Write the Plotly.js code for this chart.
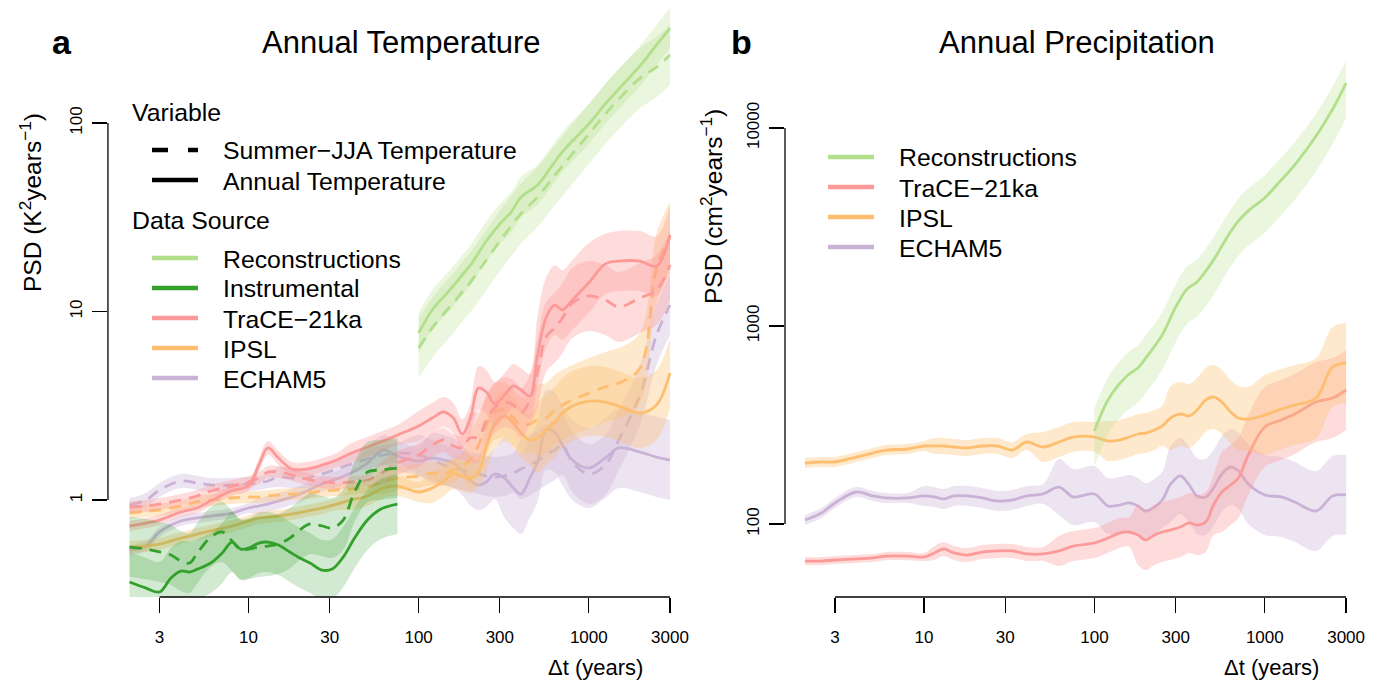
<!DOCTYPE html>
<html><head><meta charset="utf-8">
<script src="https://cdn.plot.ly/plotly-3.0.1.min.js"></script>
<style>html,body{margin:0;padding:0;background:#fff}</style>
</head><body><div id="chart" style="width:1384px;height:683px"></div>
<script>
// ---------- DATA ----------
const dtGrid = [2, 2.5, 3, 4, 5, 6, 8, 10, 11.5, 13, 15, 18, 22, 27, 33, 40, 50, 62, 75, 100, 120, 140, 160, 180, 200, 225, 250, 280, 320, 360, 400, 450, 500, 560, 630, 700, 800, 1000, 1250, 1500, 2000, 2500, 3000];
const dtInstr = [2, 2.5, 3, 3.5, 4, 4.5, 5, 6, 7, 8, 9, 10, 11.5, 13, 15, 17.5, 20, 23, 27, 31, 36, 42, 50, 60, 75];
const dtRecon = [100, 120, 140, 160, 180, 200, 250, 300, 350, 400, 500, 600, 700, 800, 1000, 1250, 1500, 2000, 2500, 3000];

// Panel a: temperature PSD (K^2 years^-1)
const traceAnnT   = [0.728, 0.755, 0.783, 0.864, 0.907, 0.99, 1.12, 1.19, 1.53, 1.89, 1.67, 1.46, 1.46, 1.53, 1.63, 1.77, 1.91, 2.06, 2.21, 2.47, 2.72, 2.93, 2.72, 2.24, 2.66, 3.93, 3.74, 3.23, 3.61, 4.03, 3.83, 3.56, 5.88, 9.24, 10.8, 10.2, 11.5, 14.2, 17.9, 18.5, 18.5, 17.4, 25.5];
const traceAnnTLo = [0.685, 0.710, 0.737, 0.813, 0.853, 0.931, 1.054, 1.12, 1.405, 1.735, 1.533, 1.341, 1.341, 1.405, 1.497, 1.566, 1.69, 1.823, 1.956, 2.057, 2.265, 2.44, 2.265, 1.865, 2.215, 3.005, 2.859, 2.469, 2.76, 3.081, 2.928, 2.722, 4.075, 6.403, 7.505, 7.062, 7.976, 9.84, 12.4, 12.82, 12.82, 12.06, 17.6];
const traceAnnTHi = [0.774, 0.803, 0.832, 0.918, 0.964, 1.052, 1.19, 1.265, 1.666, 2.058, 1.819, 1.59, 1.59, 1.666, 1.775, 2.0, 2.158, 2.328, 2.497, 2.966, 3.267, 3.519, 3.267, 2.69, 3.195, 5.14, 4.892, 4.225, 4.722, 5.271, 5.01, 4.656, 9.58, 15.06, 17.6, 16.6, 18.7, 23.1, 25.83, 26.7, 26.7, 25.11, 36.7];
const traceJjaT   = [0.918, 0.929, 0.952, 1.0, 1.05, 1.116, 1.186, 1.246, 1.308, 1.407, 1.407, 1.357, 1.292, 1.246, 1.231, 1.246, 1.277, 1.407, 1.571, 1.733, 1.958, 2.081, 1.935, 1.889, 2.133, 2.159, 2.657, 3.077, 3.31, 3.192, 2.894, 3.393, 4.778, 7.326, 8.18, 9.24, 11.1, 12.09, 11.51, 10.57, 11.81, 13.0, 17.65];
const traceJjaTLo = [0.853, 0.863, 0.885, 0.929, 0.976, 1.037, 1.102, 1.158, 1.216, 1.308, 1.308, 1.261, 1.201, 1.158, 1.144, 1.158, 1.187, 1.215, 1.357, 1.497, 1.691, 1.797, 1.671, 1.631, 1.572, 1.591, 1.958, 2.267, 2.439, 2.352, 2.133, 2.5, 3.115, 4.776, 5.333, 6.024, 7.236, 7.881, 7.503, 6.891, 7.699, 8.475, 11.51];
const traceJjaTHi = [0.988, 1.0, 1.024, 1.076, 1.13, 1.201, 1.276, 1.341, 1.407, 1.514, 1.514, 1.46, 1.39, 1.341, 1.325, 1.341, 1.374, 1.629, 1.819, 2.007, 2.267, 2.41, 2.241, 2.187, 2.894, 2.93, 3.606, 4.176, 4.492, 4.332, 3.927, 4.604, 7.329, 11.24, 12.55, 14.17, 17.03, 18.55, 17.66, 16.21, 18.12, 19.94, 27.08];

const ipslAnnT   = [0.563, 0.570, 0.584, 0.628, 0.660, 0.685, 0.728, 0.774, 0.803, 0.812, 0.822, 0.843, 0.874, 0.907, 0.952, 1.0, 1.05, 1.158, 1.186, 1.103, 1.158, 1.261, 1.374, 1.341, 1.308, 1.407, 1.91, 2.53, 2.79, 2.56, 2.27, 2.08, 2.13, 2.35, 2.59, 2.89, 3.15, 3.35, 3.31, 3.15, 2.89, 3.19, 4.72];
const ipslAnnTLo = [0.523, 0.530, 0.543, 0.584, 0.613, 0.637, 0.677, 0.719, 0.746, 0.755, 0.764, 0.783, 0.812, 0.843, 0.885, 0.885, 0.929, 1.025, 1.05, 0.976, 0.964, 1.05, 1.144, 1.117, 1.089, 1.172, 1.408, 1.864, 2.056, 1.886, 1.673, 1.533, 1.389, 1.532, 1.688, 1.884, 2.053, 2.184, 2.158, 2.053, 1.884, 2.08, 3.077];
const ipslAnnTHi = [0.606, 0.613, 0.628, 0.676, 0.710, 0.737, 0.783, 0.833, 0.864, 0.874, 0.884, 0.907, 0.940, 0.976, 1.024, 1.13, 1.187, 1.309, 1.34, 1.246, 1.391, 1.514, 1.65, 1.61, 1.571, 1.69, 2.592, 3.433, 3.786, 3.474, 3.08, 2.823, 3.267, 3.605, 3.973, 4.433, 4.832, 5.139, 5.078, 4.832, 4.433, 4.893, 7.24];
const ipslJjaT   = [0.853, 0.874, 0.885, 0.929, 0.976, 1.0, 1.025, 1.037, 1.037, 1.05, 1.063, 1.076, 1.089, 1.116, 1.13, 1.144, 1.172, 1.246, 1.308, 1.341, 1.391, 1.374, 1.443, 1.515, 1.63, 1.958, 2.5, 2.93, 3.0, 2.72, 2.5, 2.53, 2.66, 2.72, 3.0, 3.19, 3.39, 3.69, 3.98, 4.17, 5.02, 17.0, 24.8];
const ipslJjaTLo = [0.793, 0.812, 0.823, 0.863, 0.907, 0.929, 0.953, 0.964, 0.964, 0.976, 0.988, 1.0, 1.012, 1.037, 1.05, 1.063, 1.089, 1.076, 1.13, 1.158, 1.201, 1.187, 1.246, 1.308, 1.158, 1.391, 1.776, 2.081, 2.131, 1.932, 1.776, 1.797, 1.734, 1.773, 1.956, 2.08, 2.21, 2.405, 2.595, 2.718, 3.273, 11.08, 16.17];
const ipslJjaTHi = [0.918, 0.940, 0.952, 1.0, 1.05, 1.076, 1.103, 1.116, 1.116, 1.13, 1.144, 1.158, 1.172, 1.201, 1.216, 1.231, 1.261, 1.443, 1.515, 1.553, 1.611, 1.591, 1.671, 1.754, 2.295, 2.757, 3.52, 4.125, 4.224, 3.83, 3.52, 3.562, 4.08, 4.172, 4.602, 4.893, 5.2, 5.66, 6.105, 6.397, 7.7, 26.08, 38.04];

const echamAnnT   = [0.543, 0.570, 0.677, 0.774, 0.803, 0.822, 0.853, 0.907, 0.929, 0.952, 0.988, 1.037, 1.116, 1.216, 1.292, 1.391, 1.571, 1.842, 1.712, 1.61, 1.67, 1.63, 1.571, 1.443, 1.277, 1.201, 1.246, 1.374, 1.308, 1.158, 1.076, 1.308, 1.59, 2.35, 2.29, 1.958, 1.63, 1.477, 1.67, 1.889, 1.797, 1.69, 1.63];
const echamAnnTLo = [0.511, 0.536, 0.637, 0.728, 0.755, 0.773, 0.802, 0.853, 0.842, 0.863, 0.896, 0.940, 1.012, 1.102, 1.171, 1.261, 1.308, 1.534, 1.425, 1.341, 1.231, 1.201, 1.158, 1.063, 0.941, 0.885, 0.918, 1.013, 0.802, 0.71, 0.66, 0.802, 0.975, 1.442, 1.405, 1.201, 1.0, 0.906, 1.025, 1.159, 1.102, 1.037, 1.0];
const echamAnnTHi = [0.577, 0.606, 0.720, 0.823, 0.854, 0.874, 0.907, 0.964, 1.025, 1.05, 1.09, 1.144, 1.231, 1.341, 1.425, 1.534, 1.887, 2.212, 2.056, 1.934, 2.266, 2.212, 2.132, 1.958, 1.733, 1.63, 1.691, 1.865, 2.132, 1.888, 1.754, 2.132, 2.592, 3.831, 3.733, 3.192, 2.657, 2.408, 2.722, 3.079, 2.929, 2.755, 2.657];
const echamJjaT   = [0.941, 1.0, 1.13, 1.261, 1.231, 1.201, 1.201, 1.216, 1.231, 1.261, 1.324, 1.308, 1.308, 1.374, 1.46, 1.553, 1.65, 1.733, 1.776, 1.733, 1.63, 1.534, 1.477, 1.443, 1.407, 1.374, 1.341, 1.324, 1.341, 1.391, 1.46, 1.534, 1.61, 1.733, 1.842, 1.958, 1.59, 1.374, 1.534, 2.081, 3.607, 7.506, 10.83];
const echamJjaTLo = [0.864, 0.918, 1.038, 1.158, 1.13, 1.103, 1.103, 1.117, 1.13, 1.158, 1.172, 1.158, 1.158, 1.216, 1.292, 1.374, 1.46, 1.534, 1.572, 1.357, 1.276, 1.201, 1.157, 1.13, 1.102, 1.076, 1.05, 1.037, 1.05, 1.089, 1.012, 1.063, 1.116, 1.201, 1.277, 1.357, 1.102, 0.952, 1.063, 1.442, 2.5, 5.202, 7.505];
const echamJjaTHi = [1.025, 1.089, 1.231, 1.373, 1.341, 1.308, 1.308, 1.324, 1.341, 1.373, 1.496, 1.478, 1.478, 1.553, 1.65, 1.755, 1.865, 1.958, 2.007, 2.213, 2.082, 1.959, 1.886, 1.843, 1.797, 1.755, 1.712, 1.691, 1.712, 1.776, 2.107, 2.214, 2.323, 2.501, 2.658, 2.825, 2.294, 1.983, 2.214, 3.003, 5.205, 10.83, 15.63];

const reconAnnT   = [7.69, 10.19, 11.94, 13.66, 15.62, 17.44, 23.66, 29.13, 33.7, 40.5, 46.9, 58.4, 70.2, 80.2, 98.8, 126.2, 151.5, 200.7, 259.3, 319];
const reconAnnTLo = [6.02, 7.98, 9.35, 10.7, 12.23, 13.66, 18.53, 22.81, 26.39, 31.71, 36.73, 45.73, 54.97, 62.8, 77.37, 98.83, 118.6, 157.2, 203.1, 249.8];
const reconAnnTHi = [9.82, 13.01, 15.25, 17.44, 19.95, 22.27, 30.21, 37.2, 43.03, 51.72, 59.89, 74.58, 89.65, 102.4, 126.2, 161.2, 193.5, 256.3, 331.1, 407.4];
const reconJjaT   = [6.40, 8.18, 9.70, 11.1, 12.69, 14.2, 18.76, 23.66, 28.43, 33.1, 40.5, 49.8, 59.2, 68.5, 87.4, 111.6, 133.8, 173.1, 197.9, 229.5];
const reconJjaTLo = [4.435, 5.669, 6.722, 7.692, 8.794, 9.841, 13.0, 16.4, 19.7, 22.94, 28.07, 34.51, 41.03, 47.47, 60.57, 77.34, 92.72, 120.0, 137.1, 159.0];
const reconJjaTHi = [9.235, 11.8, 14.0, 16.02, 18.31, 20.49, 27.07, 34.14, 41.02, 47.76, 58.44, 71.86, 85.43, 98.85, 126.1, 161.0, 193.1, 249.8, 285.6, 331.2];

const instrAnnT   = [0.367, 0.341, 0.325, 0.386, 0.42, 0.415, 0.43, 0.463, 0.523, 0.598, 0.549, 0.556, 0.591, 0.598, 0.577, 0.530, 0.493, 0.463, 0.425, 0.43, 0.498, 0.628, 0.783, 0.896, 0.952];
const instrAnnTLo = [0.254, 0.236, 0.225, 0.267, 0.291, 0.288, 0.298, 0.321, 0.362, 0.414, 0.38, 0.385, 0.41, 0.414, 0.4, 0.367, 0.342, 0.321, 0.295, 0.298, 0.345, 0.435, 0.543, 0.621, 0.66];
const instrAnnTHi = [0.53, 0.492, 0.469, 0.557, 0.606, 0.599, 0.62, 0.668, 0.755, 0.863, 0.792, 0.802, 0.853, 0.863, 0.833, 0.765, 0.711, 0.668, 0.613, 0.62, 0.719, 0.906, 1.13, 1.293, 1.374];
const instrJjaT   = [0.563, 0.549, 0.530, 0.511, 0.475, 0.463, 0.523, 0.636, 0.677, 0.606, 0.543, 0.549, 0.563, 0.570, 0.584, 0.628, 0.693, 0.746, 0.728, 0.710, 0.783, 1.103, 1.407, 1.443, 1.477];
const instrJjaTLo = [0.39, 0.38, 0.367, 0.354, 0.329, 0.321, 0.362, 0.441, 0.469, 0.42, 0.376, 0.38, 0.39, 0.395, 0.405, 0.435, 0.48, 0.517, 0.504, 0.492, 0.543, 0.764, 0.975, 1.0, 1.024];
const instrJjaTHi = [0.812, 0.792, 0.765, 0.737, 0.685, 0.668, 0.755, 0.918, 0.977, 0.874, 0.784, 0.792, 0.812, 0.823, 0.843, 0.906, 1.0, 1.076, 1.05, 1.025, 1.13, 1.592, 2.03, 2.082, 2.131];

// Panel b: precipitation PSD (cm^2 years^-1)
const tracePr   = [65.0, 65.0, 65.8, 66.6, 67.4, 68.9, 68.9, 68.1, 71.4, 74.8, 71.4, 69.7, 72.2, 73.1, 73.1, 70.6, 70.6, 73.1, 77.4, 80.2, 85.0, 90.0, 91.1, 88.0, 83.0, 88.0, 91.1, 93.3, 96.6, 101.2, 98.8, 102.3, 124.7, 145.1, 157.4, 170.8, 223.1, 309.1, 335.1, 359.4, 413.3, 432.7, 475.0];
const tracePrLo = [62.0, 62.0, 62.8, 63.5, 64.3, 65.7, 65.7, 65.0, 65.8, 68.9, 65.8, 64.2, 66.5, 67.4, 67.4, 65.1, 65.1, 61.4, 65.0, 67.4, 71.4, 75.6, 76.6, 62.1, 58.5, 62.1, 64.2, 65.8, 68.1, 71.4, 69.7, 72.1, 87.9, 91.1, 98.9, 107.3, 140.1, 194.2, 210.5, 225.8, 259.6, 271.8, 298.4];
const tracePrHi = [68.1, 68.1, 69.0, 69.8, 70.6, 72.2, 72.2, 71.4, 77.5, 81.2, 77.5, 75.6, 78.3, 79.3, 79.3, 76.6, 76.6, 87.0, 92.1, 95.4, 101.2, 107.1, 108.4, 124.8, 117.7, 124.8, 129.2, 132.3, 137.0, 143.5, 140.1, 145.1, 176.8, 231.0, 250.6, 271.9, 355.2, 492.1, 533.5, 572.2, 658.0, 688.9, 756.2];
const ipslPr   = [203.3, 205.7, 205.7, 217.9, 228.3, 236.4, 239.2, 247.7, 247.7, 247.7, 244.8, 242.0, 247.7, 247.7, 236.4, 259.5, 244.8, 259.5, 275.0, 275.0, 262.6, 265.6, 275.0, 284.8, 288.1, 298.4, 312.6, 343.0, 359.4, 351.3, 376.5, 423.0, 437.9, 413.3, 367.6, 343.0, 339.1, 355.3, 380.9, 398.9, 432.7, 621.2, 650.4];
const ipslPrLo = [191.8, 194.1, 194.1, 205.6, 215.4, 223.0, 225.7, 233.7, 225.8, 225.8, 223.2, 220.6, 225.8, 225.8, 215.5, 236.6, 205.7, 218.1, 231.1, 231.1, 208.1, 210.5, 217.9, 225.7, 228.3, 236.5, 247.7, 236.4, 247.7, 242.1, 259.5, 291.5, 301.8, 284.8, 253.3, 236.4, 233.7, 223.2, 239.3, 250.6, 271.8, 390.2, 408.5];
const ipslPrHi = [215.5, 218.0, 218.0, 231.0, 242.0, 250.6, 253.6, 262.6, 271.7, 271.7, 268.5, 265.5, 271.7, 271.7, 259.3, 284.7, 291.3, 308.8, 327.3, 327.3, 331.4, 335.2, 347.1, 359.4, 363.6, 376.6, 394.5, 497.7, 521.5, 509.7, 546.3, 613.8, 635.4, 599.7, 533.4, 497.7, 492.0, 565.6, 606.4, 635.1, 688.9, 989.0, 1035];
const echamPr   = [104.8, 113.6, 127.7, 145.1, 138.6, 135.4, 135.4, 138.6, 137.0, 133.8, 138.6, 138.6, 135.4, 130.7, 132.2, 138.6, 141.8, 153.7, 137.0, 141.8, 123.3, 124.7, 127.7, 123.3, 116.3, 121.9, 132.2, 159.2, 174.8, 157.4, 138.6, 137.0, 152.0, 178.9, 194.0, 185.3, 159.2, 140.2, 137.0, 129.2, 116.3, 138.6, 140.2];
const echamPrLo = [98.9, 107.2, 120.5, 136.9, 130.8, 127.7, 127.7, 123.4, 122.0, 119.1, 123.4, 123.4, 120.6, 116.4, 117.7, 123.4, 126.3, 111.0, 98.9, 102.4, 89.0, 90.0, 92.2, 89.0, 84.0, 88.0, 95.5, 102.3, 112.3, 101.2, 89.1, 88.0, 97.7, 115.0, 124.7, 119.1, 100.0, 88.1, 86.1, 81.2, 73.1, 87.1, 88.1];
const echamPrHi = [111.1, 120.4, 135.4, 153.8, 146.9, 143.5, 143.5, 155.6, 153.9, 150.3, 155.6, 155.6, 152.1, 146.8, 148.5, 155.6, 159.2, 212.9, 189.7, 196.4, 170.8, 172.7, 176.9, 170.8, 161.1, 168.8, 183.1, 247.7, 272.0, 244.9, 215.7, 213.2, 236.5, 278.4, 301.9, 288.3, 253.4, 223.2, 218.1, 205.7, 185.1, 220.7, 223.2];
const reconPr   = [294.9, 422.9, 509.5, 572.3, 613.7, 688.6, 900.5, 1247, 1539, 1669, 2154, 2802, 3392, 3815, 4442, 5467, 6517, 9103, 12450, 16870];
const reconPrLo = [196.6, 281.9, 339.7, 381.5, 409.1, 459.1, 600.3, 831.3, 1026, 1113, 1436, 1868, 2261, 2543, 2961, 3645, 4345, 6069, 8300, 11247];
const reconPrHi = [383.4, 549.8, 662.4, 744.0, 797.8, 895.2, 1171, 1621, 2001, 2170, 2800, 3643, 4410, 4960, 5775, 7107, 8472, 11834, 16185, 21931];

const xTicks = [3, 10, 30, 100, 300, 1000, 3000];
const xTickText = ['3', '10', '30', '100', '300', '1000', '3000'];
const yTicksA = [1, 10, 100];
const yTicksB = [100, 1000, 10000];

// ---------- STYLE ----------
const COL = {recon:'#B2DF8A', instr:'#33A02C', trace:'#FB9A99', ipsl:'#FDBF6F', echam:'#CAB2D6'};
function rgba(hex, a){
  const n = parseInt(hex.slice(1),16);
  return 'rgba('+((n>>16)&255)+','+((n>>8)&255)+','+(n&255)+','+a+')';
}
const DASH = '12px,8px';
const LW = 2.8;
const traces = [];
function band(x, lo, hi, color, alpha, xa, ya){
  traces.push({x:x, y:lo, xaxis:xa, yaxis:ya, type:'scatter', mode:'lines',
    line:{width:0, shape:'spline', color:color}, hoverinfo:'skip', showlegend:false});
  traces.push({x:x, y:hi, xaxis:xa, yaxis:ya, type:'scatter', mode:'lines',
    line:{width:0, shape:'spline', color:color}, fill:'tonexty', fillcolor:rgba(color, alpha),
    hoverinfo:'skip', showlegend:false});
}
function line(x, y, color, dash, xa, ya, w){
  traces.push({x:x, y:y, xaxis:xa, yaxis:ya, type:'scatter', mode:'lines',
    line:{width:w||LW, shape:'spline', color:color, dash:dash}, hoverinfo:'skip', showlegend:false});
}

// Panel a
band(dtGrid, echamAnnTLo, echamAnnTHi, COL.echam, 0.35, 'x', 'y');
band(dtGrid, echamJjaTLo, echamJjaTHi, COL.echam, 0.35, 'x', 'y');
line(dtGrid, echamAnnT, COL.echam, 'solid', 'x', 'y');
line(dtGrid, echamJjaT, COL.echam, DASH, 'x', 'y');
band(dtGrid, ipslAnnTLo, ipslAnnTHi, COL.ipsl, 0.35, 'x', 'y');
band(dtGrid, ipslJjaTLo, ipslJjaTHi, COL.ipsl, 0.35, 'x', 'y');
line(dtGrid, ipslAnnT, COL.ipsl, 'solid', 'x', 'y');
line(dtGrid, ipslJjaT, COL.ipsl, DASH, 'x', 'y');
band(dtGrid, traceAnnTLo, traceAnnTHi, COL.trace, 0.35, 'x', 'y');
band(dtGrid, traceJjaTLo, traceJjaTHi, COL.trace, 0.35, 'x', 'y');
line(dtGrid, traceAnnT, COL.trace, 'solid', 'x', 'y');
line(dtGrid, traceJjaT, COL.trace, DASH, 'x', 'y');
band(dtRecon, reconAnnTLo, reconAnnTHi, COL.recon, 0.28, 'x', 'y');
band(dtRecon, reconJjaTLo, reconJjaTHi, COL.recon, 0.28, 'x', 'y');
line(dtRecon, reconAnnT, COL.recon, 'solid', 'x', 'y');
line(dtRecon, reconJjaT, COL.recon, DASH, 'x', 'y');
band(dtInstr, instrAnnTLo, instrAnnTHi, COL.instr, 0.22, 'x', 'y');
band(dtInstr, instrJjaTLo, instrJjaTHi, COL.instr, 0.22, 'x', 'y');
line(dtInstr, instrAnnT, COL.instr, 'solid', 'x', 'y');
line(dtInstr, instrJjaT, COL.instr, DASH, 'x', 'y');

// Panel b
band(dtGrid, echamPrLo, echamPrHi, COL.echam, 0.35, 'x2', 'y2');
line(dtGrid, echamPr, COL.echam, 'solid', 'x2', 'y2');
band(dtGrid, tracePrLo, tracePrHi, COL.trace, 0.35, 'x2', 'y2');
line(dtGrid, tracePr, COL.trace, 'solid', 'x2', 'y2');
band(dtGrid, ipslPrLo, ipslPrHi, COL.ipsl, 0.35, 'x2', 'y2');
line(dtGrid, ipslPr, COL.ipsl, 'solid', 'x2', 'y2');
band(dtRecon, reconPrLo, reconPrHi, COL.recon, 0.28, 'x2', 'y2');
line(dtRecon, reconPr, COL.recon, 'solid', 'x2', 'y2');

// ---------- LAYOUT ----------
const W = 1384, H = 683;
const px = v => v / W, py = v => 1 - v / H;
const FONT = 'Liberation Sans, Arial, Helvetica, sans-serif';

const xBase = {type:'log', tickvals:xTicks, ticktext:xTickText, ticks:'outside', ticklen:15,
  tickwidth:1.3, tickcolor:'#000', showgrid:false, zeroline:false, showline:false,
  tickfont:{size:17, color:'#000'}, ticklabelstandoff:10, fixedrange:true};
const yBase = {type:'log', ticks:'outside', ticklen:15, tickwidth:1.3, tickcolor:'#000',
  showgrid:false, zeroline:false, showline:false, tickangle:-90,
  tickfont:{size:17, color:'#000'}, ticklabelstandoff:3, fixedrange:true};

const ann = [];
function txt(t, x, y, size, opts){
  ann.push(Object.assign({text:t, x:px(x), y:py(y), xref:'paper', yref:'paper', showarrow:false,
    xanchor:'left', yanchor:'middle', font:{size:size, color:'#000', family:FONT}}, opts||{}));
}
txt('<b>a</b>', 62, 42, 34, {xanchor:'center'});
txt('Annual Temperature', 401, 42, 31, {xanchor:'center'});
txt('<b>b</b>', 741, 42, 34, {xanchor:'center'});
txt('Annual Precipitation', 1077, 42, 31, {xanchor:'center'});
txt('\u0394t (years)', 645, 667, 22, {xanchor:'right'});
txt('\u0394t (years)', 1321, 667, 22, {xanchor:'right'});
txt('PSD (K<sup>2</sup>years<sup>\u22121</sup>)', 30, 203, 24.5, {xanchor:'center', textangle:-90});
txt('PSD (cm<sup>2</sup>years<sup>\u22121</sup>)', 711, 207, 24.5, {xanchor:'center', textangle:-90});

const shapes = [
  {type:'line', xref:'x', yref:'y domain', x0:3, x1:3000, y0:0, y1:0, line:{color:'#000', width:1.3}},
  {type:'line', xref:'x domain', yref:'y', x0:0, x1:0, y0:1, y1:100, line:{color:'#000', width:1.3}},
  {type:'line', xref:'x2', yref:'y2 domain', x0:3, x1:3000, y0:0, y1:0, line:{color:'#000', width:1.3}},
  {type:'line', xref:'x2 domain', yref:'y2', x0:0, x1:0, y0:100, y1:10000, line:{color:'#000', width:1.3}}
];
function legLine(x0, x1, y, color, dash){
  shapes.push({type:'line', xref:'paper', yref:'paper', x0:px(x0), x1:px(x1), y0:py(y), y1:py(y),
    line:{color:color, width:4.5, dash:dash||'solid'}});
}
// Legend panel a
const LF = 24.8;
txt('Variable', 130, 112, LF);
legLine(152, 198, 150, '#000', '16px,20px'); txt('Summer\u2212JJA Temperature', 221, 151, LF);
legLine(152, 198, 180, '#000'); txt('Annual Temperature', 221, 181, LF);
txt('Data Source', 130, 220, LF);
const legA = [['Reconstructions', COL.recon, 258], ['Instrumental', COL.instr, 288],
  ['TraCE\u221221ka', COL.trace, 318], ['IPSL', COL.ipsl, 348], ['ECHAM5', COL.echam, 378]];
legA.forEach(e => { legLine(152, 198, e[2], e[1]); txt(e[0], 221, e[2] + 1, LF); });
// Legend panel b
const legB = [['Reconstructions', COL.recon, 157], ['TraCE\u221221ka', COL.trace, 187],
  ['IPSL', COL.ipsl, 217], ['ECHAM5', COL.echam, 247]];
legB.forEach(e => { legLine(828, 874, e[2], e[1]); txt(e[0], 897, e[2] + 1, LF); });

const layout = {
  width:W, height:H, margin:{l:0, r:0, t:0, b:0}, showlegend:false,
  paper_bgcolor:'#fff', plot_bgcolor:'rgba(0,0,0,0)', font:{family:FONT, color:'#000'},
  xaxis:Object.assign({}, xBase, {domain:[0.0780, 0.4997], range:[0.174, 3.604], anchor:'y'}),
  yaxis:Object.assign({}, yBase, {domain:[0.1259, 0.9927], range:[-0.5146, 2.626], anchor:'x',
    tickvals:yTicksA, ticktext:['1', '10', '100']}),
  xaxis2:Object.assign({}, xBase, {domain:[0.5672, 0.9870], range:[0.184, 3.594], anchor:'y2'}),
  yaxis2:Object.assign({}, yBase, {domain:[0.1259, 0.9927], range:[1.6313, 4.6212], anchor:'x2',
    tickvals:yTicksB, ticktext:['100', '1000', '10000']}),
  annotations:ann, shapes:shapes
};
Plotly.newPlot('chart', traces, layout, {displayModeBar:false, staticPlot:true});
</script></body></html>
